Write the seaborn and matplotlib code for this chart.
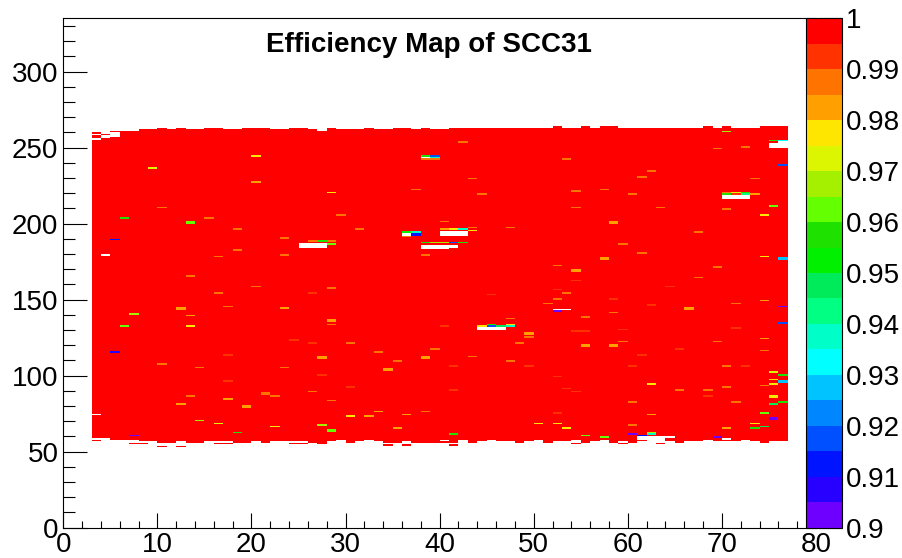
import numpy as np
import pandas as pd
import matplotlib
matplotlib.use("Agg")
import matplotlib.pyplot as plt
import seaborn as sns
from matplotlib.colors import ListedColormap

sns.set_theme(style="ticks")
plt.rcParams["font.family"] = ["Liberation Sans", "DejaVu Sans"]

# ---------------- data ----------------
title = "Efficiency Map of SCC31"
n_x_bins, n_y_bins = 80, 335          # 1 x 1 bins, x in [0, 80), y in [0, 335)
first_column = 3                      # first strip column carrying data

# lower (inclusive) and upper (exclusive) y edge of the active area, columns 3..76
bottom_edge = [57, 59, 58, 58, 58, 57, 57, 56, 56, 57, 56, 56, 57, 57, 57, 56, 56, 57, 56, 57, 57, 57, 57, 56, 55,
               57, 58, 56, 57, 58, 57, 56, 56, 57, 56, 56, 56, 56, 56, 58, 56, 57, 58, 57, 57, 56, 57, 58, 56, 57,
               57, 58, 56, 57, 58, 56, 57, 56, 57, 60, 60, 57, 56, 57, 57, 58, 57, 57, 57, 58, 57, 56, 57, 57]
top_edge = [260, 259, 261, 261, 261, 262, 262, 263, 262, 263, 262, 262, 263, 263, 262, 262, 263, 263, 263, 262, 262, 263, 263, 262, 261,
            263, 262, 262, 262, 263, 262, 262, 263, 263, 262, 263, 262, 262, 263, 263, 263, 263, 263, 263, 263, 263, 263, 263, 263, 264,
            263, 263, 264, 263, 264, 264, 263, 263, 263, 263, 263, 263, 263, 263, 263, 264, 263, 264, 263, 263, 263, 264, 264, 264]

# isolated fully efficient cells just below the lower edge
stray_x = [7, 8, 10, 12, 16, 17, 24, 25, 34, 36, 41, 54, 59, 63]
stray_y = [55, 55, 53, 53, 55, 55, 55, 55, 54, 54, 54, 55, 55, 55]

# cells with efficiency below 1
cell_x = [20, 9, 20, 10, 6, 13, 13, 15, 18, 23, 5, 16, 18, 23, 13, 20, 26, 27, 28, 28,
          42, 38, 38, 39, 39, 39, 43, 37, 44, 28, 29, 31, 40, 36, 36, 37, 37, 37, 40, 41,
          42, 43, 43, 38, 39, 40, 41, 42, 38, 47, 52, 28, 70, 69, 72, 75, 76, 53, 62, 61,
          73, 76, 54, 57, 60, 70, 70, 71, 71, 72, 72, 73, 54, 63, 70, 75, 74, 58, 58, 67,
          59, 61, 57, 57, 74, 76, 76, 54, 54, 54, 69, 67, 64,
          16, 26, 12, 12, 13, 7, 17, 23, 6, 13, 24, 26, 5, 17, 27, 27, 10, 14, 23, 27,
          17, 13, 21, 21, 22, 26, 12, 17, 19, 19, 14, 16, 18, 22, 27, 7,
          28, 28, 28, 45, 52, 51, 52, 52, 47, 40, 44, 45, 45, 46, 47, 47, 49, 49, 49, 48,
          30, 33, 39, 43, 38, 38, 35, 47, 41, 49, 34, 34, 52, 30, 41, 28, 30, 32, 33, 36,
          38, 52, 35, 50, 52, 28, 28, 41,
          53, 58, 62, 66, 66, 71, 74, 76, 55, 58, 71, 76, 54, 55, 59, 55, 55, 58, 58, 59,
          74, 69, 65, 74, 61, 60, 70, 72, 75, 76, 75, 75, 76, 76, 62, 53, 54, 65, 68, 68,
          70, 74, 60, 71, 75, 75, 75, 76, 62, 74, 75, 75, 53, 60, 73, 74, 73, 70, 55, 57,
          60, 61, 62, 62, 69]
cell_y = [244, 236, 227, 210, 203, 200, 201, 203, 196, 190, 189, 178, 182, 179, 165, 158, 188, 188, 188, 186,
          253, 244, 242, 244, 243, 242, 229, 222, 219, 220, 205, 196, 201, 194, 191, 194, 193, 192, 196, 196,
          196, 197, 195, 187, 187, 187, 187, 187, 179, 197, 172, 157, 260, 249, 250, 254, 254, 242, 234, 230,
          229, 238, 221, 222, 219, 220, 219, 220, 219, 220, 219, 219, 210, 210, 209, 211, 205, 200, 201, 194,
          186, 180, 176, 177, 178, 176, 177, 168, 169, 162, 171, 164, 158,
          154, 154, 143, 144, 139, 140, 145, 144, 132, 132, 123, 121, 115, 113, 111, 112, 107, 105, 105, 100,
          96, 86, 87, 88, 86, 89, 81, 84, 79, 80, 70, 68, 62, 66, 67, 60,
          135, 136, 133, 153, 156, 147, 150, 142, 137, 132, 132, 133, 132, 132, 133, 132, 127, 128, 125, 121,
          121, 115, 117, 112, 111, 112, 109, 109, 106, 106, 103, 104, 99, 92, 90, 83, 73, 73, 76, 74,
          76, 75, 65, 68, 68, 63, 64, 61,
          154, 150, 146, 143, 144, 147, 149, 145, 138, 141, 131, 134, 129, 129, 130, 119, 120, 119, 120, 122,
          124, 122, 117, 116, 113, 106, 106, 106, 102, 100, 97, 94, 95, 96, 94, 91, 89, 90, 90, 86,
          92, 93, 82, 82, 85, 86, 81, 82, 74, 75, 71, 72, 65, 67, 68, 66, 65, 65, 60, 59,
          61, 60, 62, 61, 59]
cell_eff = [0.977, 0.972, 0.983, 0.987, 0.958, 0.963, 0.963, 0.988, 0.987, 0.987, 0.912, 0.987, 0.987, 0.987, 0.987, 0.987, 0.987, 0.958, 0.987, 0.962,
            0.987, 0.958, 0.987, 0.917, 0.937, 0.987, 0.987, 0.987, 0.987, 0.977, 0.987, 0.987, 0.988, 0.952, 0.987, 0.937, 0.912, 0.912, 0.983, 0.977,
            0.937, 0.987, 0.977, 0.958, 0.968, 0.968, 0.917, 0.957, 0.987, 0.987, 0.987, 0.987, 0.968, 0.987, 0.987, 0.957, 0.932, 0.987, 0.987, 0.987,
            0.987, 0.917, 0.987, 0.987, 0.987, 0.987, 0.958, 0.972, 0.992, 0.957, 0.942, 0.983, 0.987, 0.987, 0.987, 0.962, 0.977, 0.983, 0.983, 0.987,
            0.987, 0.987, 0.983, 0.983, 0.977, 0.927, 0.927, 0.983, 0.983, 0.992, 0.987, 0.987, 0.992,
            0.987, 0.992, 0.983, 0.983, 0.982, 0.968, 0.987, 0.982, 0.962, 0.977, 0.992, 0.992, 0.907, 0.992, 0.983, 0.983, 0.987, 0.987, 0.987, 0.992,
            0.992, 0.987, 0.986, 0.986, 0.987, 0.987, 0.982, 0.982, 0.983, 0.983, 0.968, 0.972, 0.958, 0.977, 0.968, 0.904,
            0.983, 0.983, 0.987, 0.992, 0.992, 0.987, 0.987, 0.903, 0.987, 0.992, 0.977, 0.957, 0.917, 0.947, 0.977, 0.937, 0.983, 0.983, 0.987, 0.987,
            0.987, 0.987, 0.987, 0.987, 0.983, 0.983, 0.987, 0.987, 0.992, 0.992, 0.983, 0.983, 0.993, 0.992, 0.992, 0.987, 0.977, 0.982, 0.982, 0.982,
            0.987, 0.992, 0.982, 0.977, 0.977, 0.962, 0.962, 0.958,
            0.987, 0.993, 0.993, 0.983, 0.983, 0.987, 0.982, 0.904, 0.987, 0.987, 0.992, 0.917, 0.992, 0.992, 0.993, 0.983, 0.983, 0.983, 0.983, 0.987,
            0.982, 0.987, 0.993, 0.987, 0.993, 0.993, 0.987, 0.992, 0.972, 0.957, 0.977, 0.977, 0.927, 0.927, 0.977, 0.993, 0.993, 0.987, 0.987, 0.993,
            0.987, 0.987, 0.987, 0.987, 0.977, 0.977, 0.947, 0.957, 0.982, 0.963, 0.904, 0.904, 0.977, 0.987, 0.977, 0.947, 0.958, 0.982, 0.962, 0.963,
            0.904, 0.912, 0.968, 0.937, 0.904]

# dead (empty) blocks inside the active area: x from..to, y from..to (inclusive)
hole_x0 = [3, 3, 4, 5, 4, 3, 3, 25, 38, 36, 40, 38, 41, 75, 76, 70, 52, 44, 40, 70, 61, 64]
hole_x1 = [3, 3, 4, 5, 4, 3, 3, 27, 38, 36, 42, 40, 41, 75, 76, 72, 53, 46, 40, 70, 61, 64]
hole_y0 = [258, 255, 256, 257, 179, 74, 58, 184, 243, 192, 192, 183, 184, 250, 250, 216, 143, 130, 57, 58, 58, 59]
hole_y1 = [258, 255, 257, 259, 179, 74, 58, 186, 243, 193, 194, 185, 185, 252, 253, 218, 143, 131, 57, 58, 59, 59]

# 20-step palette from 0.900 to 1.000
palette = ["#6e00ff", "#2800ff", "#0014ff", "#0050ff", "#0087ff",
           "#00c3ff", "#00ffff", "#00ffc8", "#00ff82", "#00eb5a",
           "#00f000", "#1ee100", "#64ff00", "#a5f000", "#dcf500",
           "#ffe600", "#ffa000", "#ff7300", "#ff3200", "#ff0000"]
z_min, z_max = 0.9, 1.0
cbar_ticks = [0.90, 0.91, 0.92, 0.93, 0.94, 0.95, 0.96, 0.97, 0.98, 0.99, 1.00]
x_major = list(range(0, 81, 10))
y_major = list(range(0, 301, 50))

# ---------------- efficiency grid ----------------
grid = np.full((n_y_bins, n_x_bins), np.nan)
for i, (lo, hi) in enumerate(zip(bottom_edge, top_edge)):
    grid[lo:hi, first_column + i] = 1.0
for x, y in zip(stray_x, stray_y):
    grid[y, x] = 1.0
for x, y, e in zip(cell_x, cell_y, cell_eff):
    grid[y, x] = e
for x0, x1, y0, y1 in zip(hole_x0, hole_x1, hole_y0, hole_y1):
    grid[y0:y1 + 1, x0:x1 + 1] = np.nan
eff = pd.DataFrame(grid)

# ---------------- figure ----------------
W, H = 902, 558
fig = plt.figure(figsize=(W / 100, H / 100), dpi=100)
fig.patch.set_facecolor("white")
ax = fig.add_axes([63.3 / W, 30.3 / H, (816 - 63.3) / W, (527.7 - 18.3) / H])
cax = fig.add_axes([806 / W, 30.3 / H, 35.7 / W, (527.7 - 18.3) / H])

sns.heatmap(eff, ax=ax, cbar_ax=cax, cmap=ListedColormap(palette),
            vmin=z_min, vmax=z_max, xticklabels=False, yticklabels=False,
            linewidths=0)

ax.set_xlim(0, n_x_bins)
ax.set_ylim(0, n_y_bins)
ax.set_facecolor("white")
for side in ("left", "bottom", "top"):
    ax.spines[side].set_visible(True)
    ax.spines[side].set_color("black")
    ax.spines[side].set_linewidth(0.8)
ax.spines["right"].set_visible(False)

ax.set_xticks(x_major)
ax.set_xticks(range(0, 81, 2), minor=True)
ax.set_yticks(y_major)
ax.set_yticks(range(0, n_y_bins, 10), minor=True)
ax.set_xticklabels([str(v) for v in x_major])
ax.set_yticklabels([str(v) for v in y_major])
ax.tick_params(axis="x", which="major", direction="in", length=10.8, width=0.8,
               labelsize=20, pad=3, bottom=True, top=False, colors="black")
ax.tick_params(axis="x", which="minor", direction="in", length=5.0, width=0.8,
               bottom=True, top=False, colors="black")
ax.tick_params(axis="y", which="major", direction="in", length=17.3, width=0.8,
               labelsize=20, pad=3.5, left=True, right=False, colors="black")
ax.tick_params(axis="y", which="minor", direction="in", length=8.6, width=0.8,
               left=True, right=False, colors="black")
ax.set_xlabel("")
ax.set_ylabel("")

cbar = ax.collections[0].colorbar
cbar.set_ticks(cbar_ticks)
cbar.set_ticklabels([f"{v:g}" for v in cbar_ticks])
cbar.outline.set_visible(True)
cbar.outline.set_linewidth(0.8)
cbar.outline.set_edgecolor("black")
cax.tick_params(axis="y", direction="in", length=16.5, width=0.8, labelsize=20,
                pad=3, right=True, left=False, colors="black")
cax.minorticks_off()

fig.text(428.5 / W, 1 - 51.7 / H, title, ha="center", va="baseline",
         fontsize=20, fontweight="bold", color="black")

fig.savefig("out.png", dpi=100, facecolor="white")
